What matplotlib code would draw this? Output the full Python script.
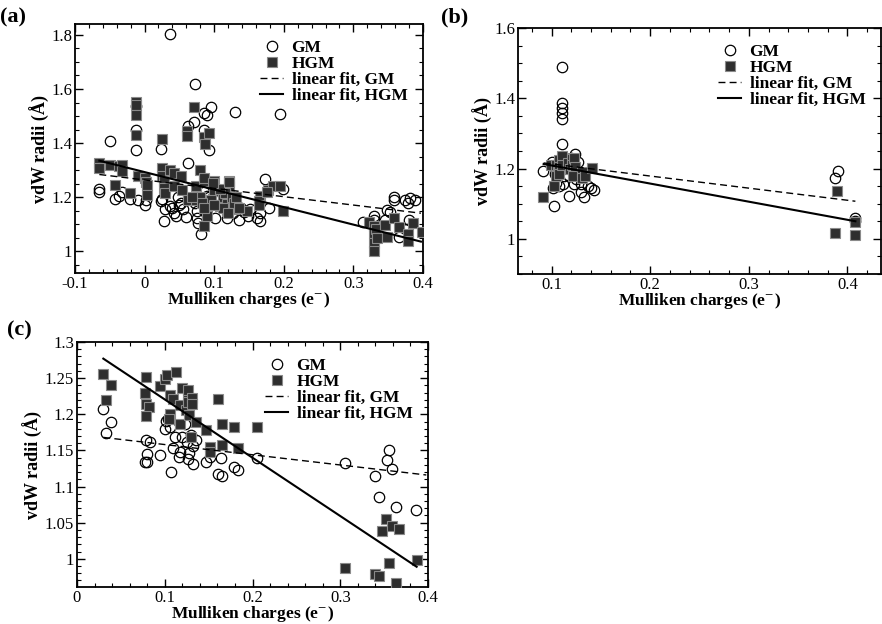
import matplotlib
matplotlib.use("Agg")
import matplotlib.pyplot as plt
from matplotlib.ticker import MultipleLocator, FormatStrFormatter
import numpy as np

plt.rcParams['font.family'] = ['Liberation Serif', 'DejaVu Serif']
plt.rcParams['mathtext.fontset'] = 'stix'

# ---- panel (a) ----
gm_a_x = [0.036, 0.072, 0.130, 0.095, 0.086, 0.089, 0.195, 0.071, 0.062, 0.085, 0.092, -0.013, -0.013, -0.013,
          -0.049, 0.024, 0.063, -0.065, -0.065, -0.042, -0.037, -0.032, -0.021, -0.010, 0.000, 0.002, 0.025, 0.028,
          0.037, 0.042, 0.045, 0.052, 0.060, 0.073, 0.076, 0.077, 0.081, 0.089, 0.101, 0.109, 0.118, 0.127,
          0.135, 0.149, 0.151, 0.166, 0.166, 0.179, 0.173, 0.199, 0.329, 0.329, 0.348, 0.352, 0.346, 0.359,
          0.359, 0.374, 0.379, 0.382, 0.389, 0.366, 0.380, 0.377, 0.314,
          0.105, 0.112, 0.115, 0.120, 0.122, 0.125, 0.118, 0.105, 0.093, 0.095, 0.085, 0.048, 0.050, 0.055,
          0.040, 0.030, 0.090, 0.138, 0.143, 0.162, 0.075, 0.024]
gm_a_y = [1.802, 1.620, 1.514, 1.533, 1.513, 1.503, 1.506, 1.478, 1.465, 1.449, 1.373, 1.538, 1.448, 1.374,
          1.409, 1.377, 1.328, 1.232, 1.218, 1.194, 1.206, 1.218, 1.195, 1.188, 1.170, 1.188, 1.194, 1.112,
          1.167, 1.142, 1.129, 1.179, 1.126, 1.177, 1.124, 1.106, 1.065, 1.204, 1.122, 1.198, 1.122, 1.142,
          1.115, 1.130, 1.157, 1.112, 1.142, 1.162, 1.268, 1.231, 1.130, 1.115, 1.152, 1.147, 1.115, 1.201,
          1.190, 1.189, 1.177, 1.198, 1.190, 1.054, 1.114, 1.081, 1.109,
          1.185, 1.160, 1.170, 1.200, 1.150, 1.175, 1.215, 1.210, 1.200, 1.170, 1.220, 1.200, 1.170, 1.155,
          1.160, 1.155, 1.160, 1.160, 1.145, 1.125, 1.148, 1.185]

hgm_a_x = [-0.013, -0.013, -0.013, -0.013, 0.071, 0.061, 0.061, 0.085, 0.087, 0.093, 0.025, -0.065, -0.065,
           -0.049, -0.037, -0.032, -0.032, -0.042, -0.021, -0.010, 0.000, 0.002, 0.004, 0.003, 0.025, 0.025,
           0.036, 0.028, 0.028, 0.030, 0.042, 0.042, 0.052, 0.054, 0.063, 0.074, 0.074, 0.080, 0.086, 0.086,
           0.090, 0.100, 0.100, 0.096, 0.109, 0.119, 0.122, 0.122, 0.130, 0.128, 0.119, 0.147, 0.166, 0.165,
           0.178, 0.185, 0.194, 0.199, 0.323, 0.329, 0.329, 0.329, 0.329, 0.333, 0.334, 0.345, 0.348, 0.359,
           0.366, 0.378, 0.379, 0.385, 0.398,
           0.112, 0.115, 0.118, 0.125, 0.128, 0.132, 0.113, 0.120, 0.108, 0.080, 0.082, 0.068, 0.085, 0.100,
           0.135, 0.165, 0.085, 0.099, 0.122, 0.176]
hgm_a_y = [1.551, 1.541, 1.505, 1.431, 1.533, 1.446, 1.425, 1.422, 1.398, 1.437, 1.415, 1.327, 1.308,
           1.320, 1.314, 1.320, 1.296, 1.247, 1.216, 1.277, 1.270, 1.255, 1.245, 1.210, 1.308, 1.277,
           1.300, 1.260, 1.235, 1.216, 1.290, 1.240, 1.277, 1.228, 1.190, 1.240, 1.190, 1.302, 1.260, 1.093,
           1.130, 1.260, 1.222, 1.190, 1.167, 1.190, 1.260, 1.240, 1.190, 1.155, 1.149, 1.149, 1.204, 1.185,
           1.228, 1.240, 1.240, 1.149, 1.108, 1.093, 1.069, 1.032, 1.001, 1.081, 1.050, 1.099, 1.054, 1.124,
           1.091, 1.063, 1.038, 1.103, 1.072,
           1.200, 1.215, 1.175, 1.200, 1.180, 1.200, 1.160, 1.140, 1.230, 1.200, 1.180, 1.200, 1.160, 1.170,
           1.160, 1.170, 1.271, 1.253, 1.257, 1.220]

fit_a_x = [-0.065, 0.397]
fit_a_gm = [1.284, 1.141]
fit_a_hgm = [1.335, 1.036]

# ---- panel (b) ----
gm_b_x = [0.111, 0.111, 0.111, 0.111, 0.111, 0.111, 0.091, 0.100, 0.103, 0.101, 0.105, 0.108, 0.113, 0.112,
          0.118, 0.123, 0.125, 0.124, 0.130, 0.133, 0.130, 0.137, 0.140, 0.143, 0.118, 0.104, 0.108, 0.115,
          0.120, 0.127, 0.387, 0.390, 0.408, 0.408]
gm_b_y = [1.488, 1.387, 1.373, 1.358, 1.342, 1.271, 1.192, 1.218, 1.093, 1.145, 1.159, 1.150, 1.180, 1.155,
          1.123, 1.155, 1.170, 1.242, 1.133, 1.120, 1.155, 1.150, 1.145, 1.138, 1.178, 1.185, 1.200, 1.210,
          1.230, 1.220, 1.172, 1.192, 1.058, 1.050]

hgm_b_x = [0.091, 0.103, 0.099, 0.105, 0.107, 0.105, 0.108, 0.108, 0.108, 0.111, 0.111, 0.117, 0.119, 0.121,
           0.121, 0.123, 0.124, 0.122, 0.131, 0.131, 0.134, 0.141, 0.387, 0.389, 0.408, 0.408]
hgm_b_y = [1.119, 1.150, 1.211, 1.210, 1.190, 1.180, 1.225, 1.205, 1.185, 1.235, 1.210, 1.215, 1.200, 1.228,
           1.210, 1.230, 1.205, 1.180, 1.190, 1.172, 1.178, 1.202, 1.017, 1.136, 1.012, 1.047]

fit_b_x = [0.092, 0.408]
fit_b_gm = [1.216, 1.107]
fit_b_hgm = [1.213, 1.050]

# ---- panel (c) ----
gm_c_x = [0.030, 0.033, 0.039, 0.079, 0.083, 0.080, 0.077, 0.080, 0.095, 0.100, 0.101, 0.104, 0.106, 0.107,
          0.109, 0.112, 0.116, 0.117, 0.120, 0.123, 0.125, 0.127, 0.128, 0.130, 0.132, 0.136, 0.132, 0.147,
          0.151, 0.161, 0.165, 0.164, 0.179, 0.184, 0.205, 0.305, 0.340, 0.344, 0.353, 0.356, 0.359, 0.364,
          0.386]
gm_c_y = [1.207, 1.174, 1.189, 1.165, 1.162, 1.145, 1.134, 1.134, 1.143, 1.180, 1.191, 1.193, 1.183, 1.120,
          1.154, 1.168, 1.141, 1.148, 1.168, 1.186, 1.161, 1.138, 1.147, 1.171, 1.131, 1.164, 1.156, 1.134,
          1.141, 1.117, 1.114, 1.139, 1.127, 1.123, 1.140, 1.133, 1.114, 1.086, 1.137, 1.150, 1.124, 1.072,
          1.067]

hgm_c_x = [0.030, 0.033, 0.039, 0.078, 0.079, 0.079, 0.082, 0.079, 0.095, 0.100, 0.102, 0.113, 0.106, 0.109,
           0.106, 0.105, 0.117, 0.117, 0.120, 0.124, 0.126, 0.126, 0.127, 0.131, 0.131, 0.128, 0.130, 0.136,
           0.147, 0.151, 0.151, 0.161, 0.165, 0.165, 0.179, 0.184, 0.205, 0.305, 0.340, 0.344, 0.347, 0.352,
           0.359, 0.367, 0.356, 0.364, 0.387]
hgm_c_y = [1.256, 1.220, 1.241, 1.229, 1.251, 1.214, 1.210, 1.197, 1.239, 1.249, 1.255, 1.259, 1.226, 1.221,
           1.200, 1.193, 1.186, 1.213, 1.237, 1.206, 1.224, 1.217, 1.234, 1.222, 1.214, 1.199, 1.169, 1.189,
           1.178, 1.155, 1.148, 1.221, 1.186, 1.157, 1.182, 1.154, 1.183, 0.987, 0.979, 0.976, 1.039, 1.055,
           1.046, 1.041, 0.994, 0.966, 0.999]

fit_c_gm_x = [0.030, 0.398]
fit_c_gm = [1.168, 1.116]
fit_c_hgm_x = [0.030, 0.387]
fit_c_hgm = [1.277, 0.989]


def draw_panel(ax, gx, gy, hx, hy, fgx, fgy, fhx, fhy):
    ax.plot(gx, gy, 'o', ms=7.5, mfc='none', mec='black', mew=0.9, label='GM', zorder=3)
    ax.plot(hx, hy, 's', ms=6.5, mfc='#2e2e2e', mec='#8a8a8a', mew=0.8, label='HGM', zorder=3)
    ax.plot(fgx, fgy, '--', color='black', lw=1.0, dashes=(5, 3), label='linear fit, GM', zorder=4)
    ax.plot(fhx, fhy, '-', color='black', lw=1.5, label='linear fit, HGM', zorder=4)
    ax.tick_params(which='both', direction='in', top=True, right=True, labelsize=12)
    ax.tick_params(which='major', length=6, width=1)
    ax.tick_params(which='minor', length=3, width=0.8)
    ax.tick_params(axis='y', pad=2)
    ax.tick_params(axis='x', pad=2)
    ax.xaxis.set_major_formatter(FormatStrFormatter('%g'))
    ax.yaxis.set_major_formatter(FormatStrFormatter('%g'))
    for s in ax.spines.values():
        s.set_linewidth(1.3)
    ax.set_xlabel('Mulliken charges (e$^{-}$)', fontsize=12.5, fontweight='bold', labelpad=-1)
    ax.set_ylabel('vdW radii (Å)', fontsize=13, fontweight='bold', labelpad=1)
    ax.legend(loc='upper right', frameon=False, prop={'weight': 'bold', 'size': 12.5},
              labelspacing=0.0, handlelength=1.3, handletextpad=0.5, borderaxespad=0.5)


fig = plt.figure(figsize=(8.82, 6.24), dpi=100)

ax1 = fig.add_axes([0.085, 0.5625, 0.3946, 0.399])
draw_panel(ax1, gm_a_x, gm_a_y, hgm_a_x, hgm_a_y, fit_a_x, fit_a_gm, fit_a_x, fit_a_hgm)
ax1.set_xlim(-0.1, 0.4)
ax1.set_ylim(0.92, 1.84)
ax1.xaxis.set_major_locator(MultipleLocator(0.1))
ax1.xaxis.set_minor_locator(MultipleLocator(0.02))
ax1.yaxis.set_major_locator(MultipleLocator(0.2))
ax1.yaxis.set_minor_locator(MultipleLocator(0.05))

ax2 = fig.add_axes([0.5873, 0.561, 0.4116, 0.394])
draw_panel(ax2, gm_b_x, gm_b_y, hgm_b_x, hgm_b_y, fit_b_x, fit_b_gm, fit_b_x, fit_b_hgm)
ax2.set_xlim(0.066, 0.434)
ax2.set_ylim(0.9, 1.6)
ax2.xaxis.set_major_locator(MultipleLocator(0.1))
ax2.xaxis.set_minor_locator(MultipleLocator(0.02))
ax2.yaxis.set_major_locator(MultipleLocator(0.2))
ax2.yaxis.set_minor_locator(MultipleLocator(0.05))

ax3 = fig.add_axes([0.0873, 0.0593, 0.398, 0.3926])
draw_panel(ax3, gm_c_x, gm_c_y, hgm_c_x, hgm_c_y, fit_c_gm_x, fit_c_gm, fit_c_hgm_x, fit_c_hgm)
ax3.set_xlim(0, 0.4)
ax3.set_ylim(0.961, 1.3)
ax3.xaxis.set_major_locator(MultipleLocator(0.1))
ax3.xaxis.set_minor_locator(MultipleLocator(0.02))
ax3.yaxis.set_major_locator(MultipleLocator(0.05))
ax3.yaxis.set_minor_locator(MultipleLocator(0.01))

fig.text(0.0, 0.972, '(a)', fontsize=16, fontweight='bold', va='center', ha='left')
fig.text(0.5, 0.972, '(b)', fontsize=16, fontweight='bold', va='center', ha='left')
fig.text(0.008, 0.47, '(c)', fontsize=16, fontweight='bold', va='center', ha='left')

fig.savefig('out.png', dpi=100)
